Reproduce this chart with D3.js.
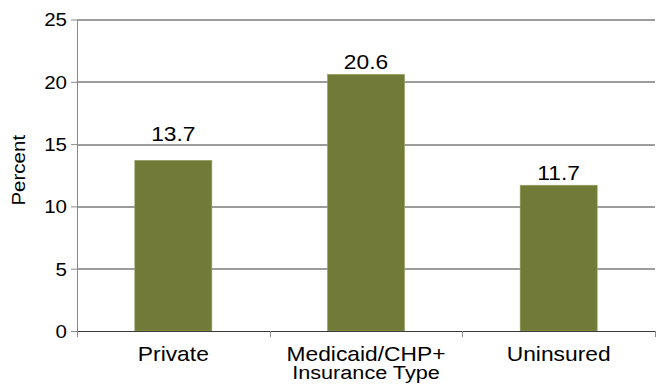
<!DOCTYPE html>
<html>
<head>
<meta charset="utf-8">
<script src="https://cdn.jsdelivr.net/npm/d3@7"></script>
<style>
  html, body { margin: 0; padding: 0; background: #fff; }
  svg { display: block; font-family: "Liberation Sans", Arial, sans-serif; }
</style>
</head>
<body>
<svg id="chart" width="660" height="392"></svg>
<script>
// Share of children by insurance type
const categories = ["Private", "Medicaid/CHP+", "Uninsured"];
const values = [13.7, 20.6, 11.7];
const yTicks = [0, 5, 10, 15, 20, 25];
const yTitle = "Percent";
const xTitle = "Insurance Type";

const W = 660, H = 392;
const margin = { top: 19.5, right: 5, bottom: 61, left: 77 };
const innerW = W - margin.left - margin.right;
const innerH = H - margin.top - margin.bottom;
const stretch = 1.14;   // slightly wide lettering

const svg = d3.select("#chart");
const g = svg.append("g").attr("transform", `translate(${margin.left},${margin.top})`);

const x = d3.scaleBand().domain(categories).range([0, innerW])
  .paddingInner(0.6).paddingOuter(0.3);
const y = d3.scaleLinear().domain([0, 25]).range([innerH, 0]);

// horizontal gridlines
g.append("g").selectAll("line").data(yTicks.filter(d => d > 0)).join("line")
  .attr("x1", 0).attr("x2", innerW)
  .attr("y1", d => Math.round(y(d)) + 0.5).attr("y2", d => Math.round(y(d)) + 0.5)
  .attr("stroke", "#3a3a3a").attr("stroke-width", 1);

// bars
g.append("g").selectAll("rect").data(values).join("rect")
  .attr("x", (d, i) => x(categories[i]))
  .attr("width", x.bandwidth())
  .attr("y", d => y(d))
  .attr("height", d => innerH - y(d))
  .attr("fill", "#717a37")
  .attr("stroke", "#9aa266").attr("stroke-width", 0.6);

// left axis
const yAxis = g.append("g")
  .call(d3.axisLeft(y).tickValues(yTicks).tickSize(6).tickPadding(9).tickSizeOuter(0));
yAxis.select(".domain").attr("stroke", "#8a8a8a");
yAxis.selectAll(".tick line").attr("stroke", "#8a8a8a");
yAxis.selectAll(".tick text")
  .attr("font-size", 18).attr("fill", "#000").attr("font-family", null)
  .attr("transform", `scale(${stretch},1)`)
  .attr("x", -10 / stretch).attr("dy", "0.36em");

// bottom axis with ticks between categories
const bx = g.append("g").attr("transform", `translate(0,${innerH})`);
bx.append("line").attr("x1", 0).attr("x2", innerW).attr("y1", 0.5).attr("y2", 0.5)
  .attr("stroke", "#3a3a3a");
const bounds = categories.map(c => x(c) - x.step() * x.paddingInner() / 2).concat([innerW]);
bounds[0] = 0;
bx.selectAll("line.sep").data(bounds).join("line").attr("class", "sep")
  .attr("x1", d => Math.round(d) + 0.5).attr("x2", d => Math.round(d) + 0.5)
  .attr("y1", 0).attr("y2", 6).attr("stroke", "#8a8a8a");
bx.selectAll("text.cat").data(categories).join("text").attr("class", "cat")
  .attr("transform", d => `translate(${x(d) + x.bandwidth() / 2},30) scale(${stretch},1)`)
  .attr("text-anchor", "middle").attr("font-size", 20).attr("fill", "#000")
  .text(d => d);

// value labels; lifted clear of a gridline where they would cross it
g.append("g").selectAll("text").data(values).join("text")
  .attr("transform", (d, i) => {
    let base = y(d) - 5;
    const top = base - 15;
    yTicks.forEach(t => {
      const gy = y(t);
      if (t > 0 && gy > top && gy < base + 1) base = gy - 3;
    });
    return `translate(${x(categories[i]) + x.bandwidth() / 2},${base}) scale(${stretch},1)`;
  })
  .attr("text-anchor", "middle").attr("font-size", 20).attr("fill", "#000")
  .text(d => d.toFixed(1));

// axis titles
svg.append("text")
  .attr("transform", `translate(${margin.left + innerW / 2},${H - 13}) scale(${stretch},1)`)
  .attr("text-anchor", "middle").attr("font-size", 19).attr("fill", "#000")
  .text(xTitle);
svg.append("text")
  .attr("transform", `translate(25,${margin.top + innerH / 2 - 5}) rotate(-90) scale(${stretch},1)`)
  .attr("text-anchor", "middle").attr("font-size", 18).attr("fill", "#000")
  .text(yTitle);
</script>
</body>
</html>
